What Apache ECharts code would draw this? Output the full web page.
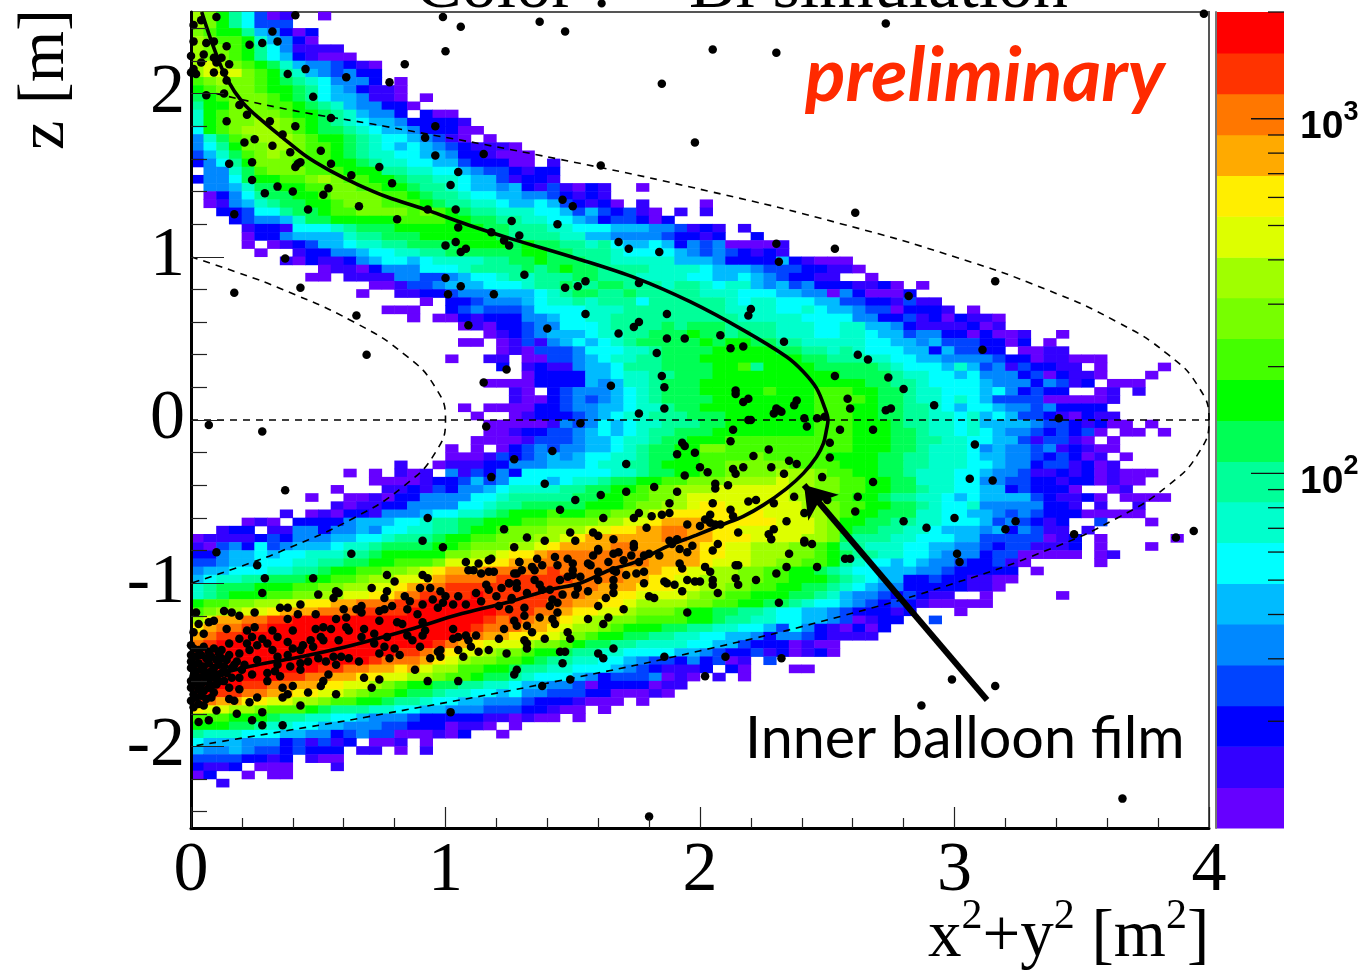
<!DOCTYPE html>
<html><head><meta charset="utf-8">
<style>html,body{margin:0;padding:0;background:#fff}#c{width:1361px;height:972px}</style>
<script src="https://cdn.jsdelivr.net/npm/echarts@6/dist/echarts.min.js"></script>
</head><body><div id="c"></div>
<script>
// Palette levels, a (lowest) .. t (highest)
const levelColors=['#6600ff','#3300ff','#0000ff','#0044ff','#0088ff','#00bbff','#00ffff','#00ffcc','#00ff99','#00ff55','#00ff00','#44ff00','#77ff00','#a0ff00','#ddff00','#ffee00','#ffaa00','#ff7700','#ff3300','#ff0000'];
const colorbarEdges=[10,13,17,22.1,28.8,37.6,48.9,63.8,83.2,108,141,184,240,313,407,531,692,902,1176,1533,2000];
const colorbarMinor=[20,30,40,50,60,70,80,90,200,300,400,500,600,700,800,900,2000];
const colorbarMajor=[100,1000];
const xTicks=[0,1,2,3,4];
const zMajorTicks=[-2,-1,0,1,2];
const zMinorTicks=[-2.4,-2.2,-1.8,-1.6,-1.4,-1.2,-0.8,-0.6,-0.4,-0.2,0.2,0.4,0.6,0.8,1.2,1.4,1.6,1.8,2.2,2.4];
// One string per z bin, top (z=2.5) to bottom; columns are x bins of 0.05, split c0-24|c25-50|c51+
const histRows=[
"nmkigdab..a","nmkigddd","mlkkifecac","nmllkhfeca","nmmlkigebbbb","nmmlkigfcbaaa","nonmlkjhfeedcba","nooomlkihfedecc",
"lmnmmlkjihgeeec.a","klmmmlkkjigfecbba","jklmmmlkjigffebba.a","ikkmmmllkjihfeecca","hklmmmmlkkjihfeec.caa","hklmmnnmlkjihgffeccccb",
"gklmnnnmlkjjihgffecccaa","ehjlmnnnmlkkjihggfedba.a",
"egikmmnnmllkjihgfgfedcbbb|a","dfhjlmnmmllkjihhggffeccba|aa","cegikmmmlllkkjihhggffdccc|aa.b",".eehjlmmmlllkkkiihhggfedd|cbcc",
"ceegjkkllmnmllkkjiihhgffd|bccb",".eefhjjkkllmmllkkjiihgffe|fcbdbacb..a",".acegijjkklmmmmllkjiihggf|feedcbcb",".abefhijjkklmmmlllkjiihhg|ffgfdcbca.b....a",
"..ccdggijjkllmmmmlmlkjiih|hhggfdfdcdba.b.b","...cdeefhjjkkkkkllllkkjji|ihhggfecddcac","....bccbggghijjjkkkkkkkjj|iiihhgggfffeedbcb.b","....acceffffhiijjjkkkkkkj|iiiihhffeeeedccbc..c",
"....a.abcdffghhiijjjjkkkk|jkjjiihigffgfcedeaaaab",".....a..bcceefgghhiijjjjj|jkkjjiiihggggfededcbcb",".......bacbbcefggfghhhhii|jjkjjjiihhhhhfffeccccfcbaa|a","..........abbaceeeggghiii|ijijkjjiiiihhhhgfffedddccb|ba",
".........aa.bbbbeeddefggh|ihiiijjiiihhhhggffgfedccbb|..a","..............aabddefffgg|ghiijiijjiiihiihghhfefdecc|cbbca.a",".............a..bbccdeeef|ffghijjiijiiiiihhhgggffeea|ecaaac","..................a.ccdee|efghhihiiigiiiiiihghhgggff|ddccbdbb",
"...............aaa..cdedd|degggghhhiiiiiiiihhhhgghgf|feddacccb.a",".................a.aacbcc|ceefgghhiiiiiiiiiihhhhhggg|geeccdbcacbba",".....................abac|cdeeggghiiiijijjjiiiihhhgg|hhffecbbbbcab",".......................ab|cdefffghhiijjjkjjijiihhhgg|hhgffdeeccacaab..a",
".....................aa.a|bdbefgfghijjjjjkjkkjjiihhh|hhggffefdddccac.a","........................a|badddeggghhijjjjkkkkkjjiih|ihgggffcfddcc.aabb","....................a..bb|.aaddefghhiijjjkkkkkkkkjji|iihhggffeeeedccabbaaa","........................c|.bcbbeffgiiijjjjkklikkkkjj|jjjihgggfhfdebdccbb.a....a",
"|.accccffghhiijjjkkkkkkkkkk|jjjjihhggfgeeecdacbba...a",".......................aa|aaccccfefhhijjjkkkkkkkkkkk|kkjjiihggggfeeecedbc.aaa","|ba.cdeeefghijjjkkkkklkkkll|lkkjjihhgggfgecdcc..ab.b","|baacdedefghijjjjkkkkkkkkll|llkjjihhghgfddddaaaaab",
".....................a.aa|aaccdeeffghhijjkkkkkkkkkll|lkkjjiihgfggfeedecccc","......................a..|abcccdefghhiiijjjkkkkkkkll|lkkjjiihhghfgfddcbacbb",".......................aa|aaabedegfghhiiijjkkkkkkkll|lkkkjiihhghffffeddcbcaa.a",".......................aa|bccddefgfghiijjjkkkkkkkkll|lkkkjjihhghgfeedcdcda.aa.a",
"......................aaa|abdddeffghhijjkkklllllllll|lkkkjjiihhggffdbddba.a","....................a.a.a|cdedeeffghijjkkmmlllllllll|lkkkjjihhhgefeedebcbaa","....................aaabd|cdefefgghhijjkkllllmlllllk|kkkjjiihhhgffeedcdcab.a","................b..abbbcc|eeefffghhiijkkkllmmmmmllll|kkkjjiihhhggfeecddbcab",
"............a.a.bab.ebdce|cggggggghhijjkkllmmmmnnnml|lkkjjihhhggfeedbbcbcabaaa","..............aaaabccdfde|gggfghhijjkkllmmmnnnnonnmm|llkkjjhhhggeeddccbccabaa","...........a...bbcbdceefg|hhhhiijjkklmmnnnoooooonnmm|llkkjjihhggffcdccca..ab",".........a..aabacceeeeggh|iiiiijjkkllmmnoooooooonnml|lkkjiihhgfgffffdcbbca.aaaa",
"...........babbcceeeegghi|ijjjjjkkklmmnnoppoooooonnm|llkkjjihggheeeeeccb.b..b",".......b.abaccbeeefgghhij|kkklkkllmmnoppppppopooonnm|lkkjjjhhggffededcccaaaaa","....aba.ccccefffgghiijjkk|kllmmmmnnoopqqqqpppppooonm|kkjjiihhgggfdedcbc..d...a","..bcc.bbeeceefegghhiijkkl|mmmnnnooppqqrrqqppoooooonm|kjjiihhgfffefcedbb.b",
"abbbbcdceeeffgghiiijkkllm|mmnnopqqqqqqrrqqpppoooonnm|jiiihhgggffdddddabc.a.....a","badecgdefffghhijjjjkklmmm|nnopqqqqrrqqqqqppoonnnmmlk|iihhhggffeedcddbbbc.a...a","cceffgfgghhhiijkkkkkmmnno|ppqrrrrrrrrqqqqppoonnnmmlk|jiihhggfeeecddaaaaa.ab","ddeffggghhiijjkkllmooopp.|qqrrrrrrrrrqqqqpooonnmmllk|ihggfgfeedccdba.....a".replace("ddeffggghhiijjkkllmooopp.","ddeffggghhiijjkkl"+"llmooopp"),
"effggghhiijkkllmmnopqqqrr|rrrsrrrrrqqqppoonnmmllkkji|hggfffeedccccc.a","fghhiijjjkkllmnnoopqrrrrs|sssssrrrrqqppoonnnmmllkkkj|ihgffccdccbbaa","hijjjkkkllmmnnoopqrrsssss|ssssrrrqqqpppoonnmmllkkjji|hgfeecccccbba","hijkkkllmmnnooppq"+"rsssstss|ssssrrqqppoooonmmllkkkjjih|feedcdcbb..a.....a",
"kllmmnnooppqqrrrsstttttss|sssrrqqpponnnnmmllkkjjihgg|fedcdcbaaaaa","lmnnoopqqq"+"rrrssssttt"+"tttts|ssrrqppoonmmmlkkjjiihggffe|dcccbc...a","noqqrrsstt"+"tttttttttt"+"tttsr|srqqponnmmllllkkjiihhggffe|dabcc..d","pqrrsstttt"+"tttttttttt"+"ttsrr|rqqponnmlkkkjjiihhggfdgecb|acac",
"qrsstttttt"+"tttttttttt"+"tsrqq|ppponmlkkjjiihhggffeceedcb|bbb","rstttttttt"+"ttttttttts"+"rqpoo|onmmlkjjiihhhhggffdcccabaa","sttttttttt"+"ttttttssrq"+"poonm|mlkkjiihhggggffedccdbcabca","ttttttttttttttsrrrqponmml|lkjiihhggfeddcecdab.d",
"ttttttttttssrrqqpqonnllkk|jiihhgggfedcbbbc.ca...aa","tttttttssrrqqppoonnmllkjj|ihgggfecdddeaba.b.a","ttttssrrqqppoonmlkkjjiihh|gffeedaccccabb","ttssrrqqppoonmllkjjihhggf|geedddccaaaba",
"srqqppoonnmllkkjiihggffee|edcccbaaa.a","poonnmlllkjiiihhggffeeedd|dccbaa.a","lllkkkjiihhggfeeedcccccbb|abaa.a","kkkjjihhggffeeeddcccabba.|a",
"ihhhgggffeecdeddaaabac..a","gfffeeecdbdbc.aab.a","feefeddcdccc.bb.a.b","ddddccbc.baa","cbbc.aaa...b","ac..a.aa","..b","","","","",""
];
// Event dots [x²+y², z]
const eventDots=[[.10,2.47],[.41,2.48],[.01,2.42],[.04,2.45],[.99,2.47],[1.06,2.41],[.32,2.38],[.34,2.32],[.01,2.32],[.06,2.31],[.09,2.32],[.14,2.29],[.23,2.30],[.28,2.31],[1.00,2.26],[0,2.23],[.05,2.24],[.09,2.22],[.12,2.22],[.10,2.19],[.04,2.19],[.15,2.18],[.84,2.18],[.45,2.15],[.01,2.15],[0,2.13],[.02,2.12],[.09,2.13],[.13,2.13],[.38,2.12],[.61,2.10],[.14,2.08],[.78,2.07],[.13,2.00],[.06,1.99],[.48,1.98],[.19,1.93],[.22,1.87],[.55,1.85],[.31,1.83],[.14,1.83],[.41,1.80],[.96,1.80],[.36,1.75],[.92,1.73],[.25,1.72],[.21,1.70],[.32,1.68],[.51,1.65],[.39,1.64],[.96,1.62],[1.15,1.63],[.43,1.58],[.24,1.58],[.42,1.57],[.41,1.55],[.15,1.57],[.55,1.57],[.74,1.55],[1.05,1.52],[.63,1.50],[.24,1.47],[.79,1.45],[1.02,1.44],[.54,1.42],[.34,1.43],[.40,1.40],[.52,1.38],[.29,1.39],[.66,1.31],[.46,1.29],[.93,1.29],[1.04,1.29],[.17,1.26],[.81,1.23],[1.26,1.22],[1.05,1.18],[1.18,1.15],[1.29,1.13],[1.23,1.10],[1.25,1.07],[1.04,1.09],[1.00,1.07],[1.08,1.05],[1.06,1.03],[.37,.99],[1.00,.87],
[1.37,2.44],[1.47,2.38],[2.05,2.27],[2.30,2.25],[2.73,2.43],[3.98,2.49],[1.85,2.06],[1.98,1.70],[1.61,1.56],[2.61,1.27],
[1.46,1.35],[1.50,1.31],[1.44,1.20],[1.68,1.09],[1.72,1.05],[1.84,1.03],[2.30,1.08],[2.53,1.05],[2.31,.97],[1.31,.89],[1.47,.81],[1.52,.82],[1.55,.85],[1.76,.84],[1.55,.65],[1.87,.65],[2.20,.68],[2.19,.64],[1.40,.56],[1.76,.60],[1.74,.57],[1.68,.53],[1.87,.50],[1.94,.50],[2.08,.52],[2.33,.48],[2.12,.44],[2.17,.45],[1.83,.41],[2.53,.27],[1.85,.27],[1.65,.21],[1.86,.20],[2.14,.18],[2.14,.16],[2.19,.13],[2.17,.11],[2.38,.12],[2.37,.09],[1.86,.07],[2.30,.07],[2.31,.06],[2.58,.13],
[1.76,.04],[2.29,.04],[2.32,.05],[2.41,.01],[2.46,.01],[2.49,.02],[2.19,0],[2.20,0],[1.53,-.02],[2.42,-.04],[2.13,-.06],[2.55,-.06],[2.12,-.13],[2.51,-.14],[1.93,-.14],[1.94,-.16],[1.42,-.19],[1.91,-.21],[1.98,-.20],[2.27,-.18],[2.21,-.22],[2.51,-.23],[1.27,-.24],[2.35,-.25],[2.38,-.27],[1.71,-.27],[2.00,-.29],[2.03,-.32],[2.13,-.30],[2.14,-.33],[2.17,-.29],[2.28,-.29],[2.33,-.33],[1.94,-.34],[2.48,-.35],[1.39,-.39],[2.06,-.39],[2.06,-.42],[2.11,-.40],[1.82,-.41],[1.71,-.44],[1.91,-.44],[1.61,-.46],[1.51,-.49],[1.88,-.51],[2.19,-.50],[2.22,-.49],[2.05,-.51],[2.29,-.51],[2.37,-.47],[2.50,-.49],[1.45,-.55],[1.76,-.57],[2.12,-.55],[2.13,-.59],[2.41,-.57],[1.88,-.57],[1.85,-.58],[1.81,-.59],[1.74,-.60],[1.62,-.60],[2.04,-.58],[2.02,-.61],[2.04,-.63],[2.08,-.64],[2.06,-.64],[2.34,-.62],[2.00,-.65],[1.95,-.64],[1.79,-.66],[1.49,-.69],[1.58,-.69],[1.60,-.71],[2.15,-.69],[2.29,-.67],[2.27,-.70],[2.28,-.73],[1.32,-.72],[1.39,-.74],[1.51,-.74],[1.66,-.73],[1.74,-.76],[1.91,-.73],[1.88,-.74],[1.89,-.76],[2.41,-.74],[2.41,-.75],[2.44,-.76],[1.27,-.78],[1.74,-.78],[1.60,-.79],[1.60,-.80],[1.92,-.79],[2.07,-.76],[2.05,-.80],[1.97,-.77],[1.95,-.81],[2.35,-.82],[1.58,-.83],[1.43,-.84],[1.48,-.85],[1.66,-.82],[1.68,-.81],[1.73,-.83],[1.78,-.83],[1.80,-.82],[1.84,-.83],[1.70,-.86],[1.64,-.87],[1.76,-.87],[1.36,-.85],[1.29,-.87],[1.38,-.89],[1.44,-.89],[1.50,-.88],[1.56,-.88],[1.57,-.89],[1.92,-.88],[1.93,-.91],[2.02,-.90],[2.04,-.93],[2.14,-.89],[2.15,-.89],[2.34,-.90],[2.46,-.90],[2.30,-.94],[2.57,-.85],[1.34,-.90],[1.35,-.92],[1.30,-.92],[1.28,-.94],[1.60,-.93],[1.66,-.92],[1.67,-.93],[1.50,-.92],[1.50,-.95],[1.48,-.96],[1.53,-.96],[1.71,-.95],[1.75,-.94],[1.78,-.93],[1.60,-.98],[1.66,-.98],[1.78,-1.00],[1.45,-.98],[1.35,-.98],[1.28,-1.00],[1.37,-1.01],[1.86,-.99],[1.87,-1.00],[1.90,-1.01],[1.95,-.98],[1.98,-.99],[2.00,-.99],[2.05,-.98],[2.05,-1.01],[2.07,-1.06],[2.14,-.97],[2.15,-1.01],[2.22,-.98],[1.52,-1.03],[1.66,-1.02],[1.56,-1.05],[1.41,-1.04],[1.38,-1.04],[1.28,-1.03],[1.25,-1.00],[1.32,-1.06],[1.46,-1.07],[1.51,-1.07],[1.66,-1.06],[1.93,-1.05],[1.63,-1.09],[1.42,-1.10],[1.44,-1.12],[1.41,-1.14],[1.60,-1.14],[1.80,-1.08],[1.82,-1.09],[2.31,-1.12],[1.26,-1.10],[1.31,-1.15],[1.70,-1.16],[1.95,-1.18],[1.44,-1.18],[1.42,-1.22],[1.31,-1.20],[1.37,-1.21],[1.56,-1.22],[1.64,-1.21],[1.62,-1.25],[1.27,-1.23],[1.43,-1.25],[1.28,-1.26],[1.32,-1.26],[1.34,-1.30],[1.48,-1.30],[1.49,-1.34],[1.39,-1.34],[1.31,-1.35],[1.32,-1.37],[1.32,-1.40],[1.66,-1.40],[1.45,-1.42],[1.47,-1.42],[1.60,-1.43],[1.62,-1.46],[1.46,-1.49],[1.86,-1.45],[2.10,-1.45],[2.32,-1.46],[1.27,-1.56],[1.49,-1.59],[1.38,-1.63],[2.02,-1.57],
[3.16,.85],[2.82,.76],[3.11,.43],[2.62,.40],[2.66,.37],[2.74,.26],[2.80,.19],[2.59,.07],[2.73,.06],[2.75,.07],[2.92,.09],[3.41,.01],[2.68,-.06],[3.08,-.15],[2.68,-.38],[3.06,-.36],[3.15,-.37],[2.62,-.47],[2.61,-.56],[2.80,-.62],[2.89,-.66],[3.00,-.60],[3.24,-.62],[3.20,-.67],[3.47,-.70],[2.59,-.85],[3.01,-.82],[3.02,-.87],
[3.87,-.72],[3.94,-.68],[3.16,-1.63],[2.99,-1.59],[2.87,-1.75],[3.66,-2.32],[1.80,-2.43],
[.17,.78],[.43,.81],[.65,.64],[.69,.40],[.07,-.03],[.28,-.07],[.37,-.43],[1.24,.31],[1.15,.23],[1.16,-.04],[1.18,-.35],[.93,-.60],[1.23,-.67],[.91,-.74],[.99,-.78],[1.06,.82],[1.01,.77],[1.19,.77],[1.09,.58],
[.10,-.81],[.63,-.82],[.26,-.89],[.29,-.97],[.48,-.97],[.28,-1.06],[.50,-1.07],[.71,-1.03],[.77,-.95],[.80,-.99],[.91,-.95],[.93,-.97],[.90,-1.03],[.94,-1.03],[.98,-1.05],[1.08,-.87],[1.09,-.92],[1.11,-.92],[1.13,-.88],[1.14,-.94],[1.17,-.86],[1.18,-.85],[1.17,-.93],[1.19,-.93],[1.29,-.87],[1.27,-.94],[1.16,-1.01],[1.17,-1.04],[1.22,-1.03],[1.25,-1.00],[.57,-1.05],[.58,-1.06],[.56,-1.09],[.77,-1.05],[.76,-1.09],[.84,-1.08],[.86,-1.11],[.95,-1.10],[.91,-1.13],[1.00,-1.08],[.99,-1.12],[.97,-1.15],[1.03,-1.13],[1.05,-1.08],[1.08,-1.13],[1.12,-1.06],[1.14,-1.11],[1.20,-1.08],[1.26,-1.09],[1.21,-1.14],[1.25,-1.16],[.13,-1.17],[.02,-1.18],[.16,-1.18],[.25,-1.18],[.19,-1.20],[.35,-1.15],[.38,-1.15],[.43,-1.13],[.42,-1.19],[.49,-1.19],[.38,-1.22],[.60,-1.16],[.65,-1.16],[.67,-1.14],[.67,-1.18],[.57,-1.22],[.61,-1.21],[.74,-1.17],[.76,-1.16],[.79,-1.14],[.85,-1.16],[.89,-1.19],[.74,-1.23],[.81,-1.24],[.83,-1.25],[.91,-1.24],[.07,-1.24],[.09,-1.23],[.03,-1.25],[.01,-1.30],[.05,-1.31],[.14,-1.28],[.22,-1.29],[.25,-1.27],[.32,-1.29],[.40,-1.29],[.34,-1.33],[.49,-1.28],[.52,-1.27],[.55,-1.28],[.61,-1.27],[.62,-1.29],[.68,-1.28],[.72,-1.31],[.67,-1.33],[.77,-1.33],[.85,-1.32],[.92,-1.29],[1.03,-1.28],[1.03,-1.34],[1.05,-1.33],[1.08,-1.32],[1.09,-1.35],[1.12,-1.32],[1.21,-1.34],[1.23,-1.28],[1.10,-1.39],[1.05,-1.41],[1.13,-1.42],[1.17,-1.41],[1.24,-1.43],[1.07,-1.45],[.98,-1.41],[.97,-1.42],[.98,-1.45],[.94,-1.46],[.90,-1.39],[.87,-1.35],[.91,-1.32],[.51,-1.33],[.52,-1.35],[.47,-1.35],[.44,-1.38],[.48,-1.39],[.58,-1.35],[.38,-1.36],[.40,-1.40],[.43,-1.41],[.32,-1.41],[.15,-1.37],[.19,-1.34],[.24,-1.33],[.28,-1.34],[.22,-1.37],[.26,-1.38],[.30,-1.37],[.23,-1.41],[.19,-1.43],[.12,-1.41],[.15,-1.44],[.38,-1.44],[.34,-1.45],[.50,-1.46],[.53,-1.48],[.56,-1.45],[.59,-1.45],[.62,-1.46],[.43,-1.49],[.46,-1.48],[.66,-1.48],[.57,-1.50],[.78,-1.46],[.74,-1.43],[.76,-1.39],[.80,-1.40],[.82,-1.44],[.72,-1.37],[.39,-1.51],[.34,-1.50],[.17,-1.50],[.26,-1.47],[.24,-1.56],[.30,-1.55],[.43,-1.53],[.33,-1.54],[.35,-1.57],[.30,-1.60],[.54,-1.56],[.68,-1.58],[.74,-1.59],[.52,-1.60],[.51,-1.63],[.40,-1.63],[.46,-1.67],[.36,-1.64],[.38,-1.68],[.36,-1.70],[.57,-1.68],[.71,-1.64],[.88,-1.53],[.93,-1.60],[1.05,-1.60],[1.28,-1.53],[.16,-1.58],[.19,-1.58],[.15,-1.64],[.19,-1.65],[.26,-1.70],[.23,-1.73],[.15,-1.71],[.17,-1.72],[.43,-1.75],[.10,-1.78],[.18,-1.80],[.28,-1.79],[.24,-1.84],[.28,-1.87],[.36,-1.87],[.03,-1.85],[.07,-1.84],[1.02,-1.79],
[0,-1.38],[.01,-1.40],[.03,-1.41],[.05,-1.39],[.07,-1.42],[.09,-1.40],[.11,-1.43],[0,-1.44],[.02,-1.45],[.04,-1.44],[.06,-1.46],[.08,-1.45],[.10,-1.47],[.12,-1.46],[0,-1.48],[.01,-1.50],[.03,-1.49],[.05,-1.51],[.07,-1.49],[.09,-1.52],[.11,-1.50],[.13,-1.51],[0,-1.52],[.02,-1.54],[.04,-1.53],[.06,-1.55],[.08,-1.54],[.10,-1.56],[.12,-1.55],[.01,-1.57],[.03,-1.58],[.05,-1.57],[.07,-1.59],[.09,-1.58],[.11,-1.60],[0,-1.60],[.02,-1.61],[.04,-1.62],[.06,-1.60],[.08,-1.63],[.10,-1.62],[0,-1.64],[.03,-1.65],[.05,-1.66],[.07,-1.64],[.09,-1.67],[.01,-1.68],[.02,-1.70],[.04,-1.69],[.06,-1.71],[.08,-1.70],[0,-1.72],[.03,-1.74],[.05,-1.75],[.01,-1.76],[.14,-1.47],[.16,-1.52],[.14,-1.55],[.13,-1.60],[.18,-1.48],[.20,-1.53],[.21,-1.50]];
const filmCurve=[[.042,2.5],[.088,2.288],[.14,2.093],[.206,1.94],[.284,1.828],[.363,1.726],[.454,1.614],[.546,1.528],[.651,1.446],[.769,1.368],[.933,1.283],[1.09,1.195],[1.253,1.113],[1.515,.99],[1.751,.868],[1.961,.725],[2.17,.551],[2.34,.388],[2.406,.296],[2.458,.194],[2.491,.071],[2.503,0],[2.497,-.06],[2.485,-.143],[2.458,-.225],[2.406,-.327],[2.34,-.42],[2.25,-.52],[2.17,-.59],[2.085,-.643],[1.986,-.705],[1.869,-.776],[1.751,-.868],[1.646,-.919],[1.528,-1.0],[1.41,-1.04],[1.253,-1.113],[1.044,-1.195],[.874,-1.277],[.585,-1.399],[.402,-1.46],[.258,-1.501],[0,-1.593]];
const outerBoundary=[[.1,2],[.39,1.9],[.76,1.8],[1.44,1.6],[2.04,1.4],[2.56,1.2],[3,1],[3.36,.8],[3.64,.6],[3.84,.4],[3.96,.2],[4,0],[3.96,-.2],[3.84,-.4],[3.64,-.6],[3.36,-.8],[3,-1],[2.56,-1.2],[2.04,-1.4],[1.44,-1.6],[.76,-1.8],[.39,-1.9],[0,-2]];
const innerBoundary=[[0,1],[.19,.9],[.36,.8],[.64,.6],[.84,.4],[.96,.2],[1,0],[.96,-.2],[.84,-.4],[.64,-.6],[.36,-.8],[.19,-.9],[0,-1]];
const midLine=[[0,0],[4,0]];
const arrowFrom=[3.128,-1.716];
const arrowTo=[2.409,-.398];

const SERIF='"Liberation Serif","DejaVu Serif",serif';
const heatData=[];
histRows.forEach((row,r)=>{
  const p=row.split('|');
  const full=(p[0]||'').padEnd(25,'.').slice(0,25)+(p[1]||'').padEnd(26,'.').slice(0,26)+(p[2]||'');
  for(let c=0;c<full.length&&c<80;c++){
    const ch=full[c];
    if(ch!=='.')heatData.push([c,99-r,ch.charCodeAt(0)-97]);
  }
});
const xBins=Array.from({length:80},(_,i)=>String(i));
const zBins=Array.from({length:100},(_,i)=>String(i));
const tickStyle={color:'#222',width:1.2};

const chart=echarts.init(document.getElementById('c'),null,{renderer:'canvas'});
chart.setOption({
  animation:false,backgroundColor:'#fff',
  grid:[
    {left:191,top:12,width:1018,height:816,show:true,borderColor:'#555',borderWidth:2,backgroundColor:'transparent',outerBoundsMode:'none'},
    {left:1216,top:12,width:68,height:816,show:false,outerBoundsMode:'none'}
  ],
  visualMap:{type:'piecewise',show:false,seriesIndex:0,dimension:2,pieces:levelColors.map((color,i)=>({value:i,color}))},
  xAxis:[
    {type:'value',gridIndex:0,min:0,max:4,interval:1,z:10,splitLine:{show:false},
      axisLine:{onZero:false,lineStyle:{color:'#000',width:3}},
      axisTick:{inside:true,length:21,lineStyle:tickStyle},
      minorTick:{show:true,splitNumber:5,length:10,lineStyle:tickStyle},
      axisLabel:{color:'#000',fontFamily:SERIF,fontSize:70,margin:9,showMinLabel:true,showMaxLabel:true,formatter:v=>xTicks.includes(v)?String(v):''}},
    {type:'category',gridIndex:0,data:xBins,show:false},
    {type:'value',gridIndex:1,min:0,max:1,show:false}
  ],
  yAxis:[
    {type:'value',gridIndex:0,min:-2.5,max:2.5,z:10,position:'left',splitLine:{show:false},
      axisLine:{onZero:false,lineStyle:{color:'#000',width:3}},
      axisTick:{inside:true,length:33,lineStyle:tickStyle,customValues:zMajorTicks},
      axisLabel:{color:'#000',fontFamily:SERIF,fontSize:70,margin:6,padding:[14,0,0,0],customValues:zMajorTicks,formatter:v=>String(v)}},
    {type:'value',gridIndex:0,min:-2.5,max:2.5,z:10,position:'left',splitLine:{show:false},
      axisLine:{show:false},
      axisTick:{inside:true,length:16,lineStyle:tickStyle,customValues:zMinorTicks},
      axisLabel:{show:false}},
    {type:'category',gridIndex:0,data:zBins,show:false},
    {type:'log',gridIndex:1,min:10,max:2000,position:'right',logBase:10,z:10,splitLine:{show:false},
      axisLine:{show:true,lineStyle:{color:'#777',width:2}},
      axisTick:{show:false},
      axisLabel:{show:true,margin:16,padding:[8,0,0,0],showMinLabel:false,showMaxLabel:false,
        formatter:v=>v>=1000?'{b|10}{s|3}':(v>=100?'{b|10}{s|2}':''),
        rich:{b:{fontFamily:'"Liberation Sans",sans-serif',fontWeight:'bold',fontSize:39,color:'#000',lineHeight:48,verticalAlign:'bottom'},
              s:{fontFamily:'"Liberation Sans",sans-serif',fontWeight:'bold',fontSize:27,color:'#000',lineHeight:48,verticalAlign:'top'}}}}
  ],
  series:[
    {type:'heatmap',name:'histogram',xAxisIndex:1,yAxisIndex:2,data:heatData,progressive:0,silent:true,z:1},
    {type:'line',name:'outer',xAxisIndex:0,yAxisIndex:0,data:outerBoundary,smooth:true,showSymbol:false,silent:true,z:3,clip:false,lineStyle:{color:'#000',width:1.6,type:[7,6]}},
    {type:'line',name:'inner',xAxisIndex:0,yAxisIndex:0,data:innerBoundary,smooth:true,showSymbol:false,silent:true,z:3,lineStyle:{color:'#000',width:1.6,type:[7,6]}},
    {type:'line',name:'mid',xAxisIndex:0,yAxisIndex:0,data:midLine,showSymbol:false,silent:true,z:3,lineStyle:{color:'#000',width:1.6,type:[7,6]}},
    {type:'line',name:'film',xAxisIndex:0,yAxisIndex:0,data:filmCurve,smooth:0.35,showSymbol:false,silent:true,z:4,lineStyle:{color:'#000',width:3.6},
      markLine:{silent:true,z:6,animation:false,label:{show:false},lineStyle:{color:'#000',width:6,type:'solid'},symbolSize:30,
        data:[[{coord:arrowFrom,symbol:'none'},{coord:arrowTo,symbol:'arrow'}]]}},
    {type:'scatter',name:'events',xAxisIndex:0,yAxisIndex:0,data:eventDots,symbolSize:8.5,silent:true,clip:false,z:5,itemStyle:{color:'#000',opacity:1}},
    {type:'custom',name:'colorbar',xAxisIndex:2,yAxisIndex:3,silent:true,z:2,clip:false,
      data:levelColors.map((c,i)=>[0,colorbarEdges[i],colorbarEdges[i+1],i]),
      encode:{x:0,y:1},
      renderItem(params,api){
        const a=api.coord([0,api.value(1)]),b=api.coord([1,api.value(2)]);
        return {type:'rect',shape:{x:a[0],y:b[1],width:b[0]-a[0],height:a[1]-b[1]+0.5},style:{fill:levelColors[api.value(3)]}};
      }},
    {type:'custom',name:'colorbarTicks',xAxisIndex:2,yAxisIndex:3,silent:true,z:3,clip:false,
      data:colorbarMinor.map(v=>[1,v,16]).concat(colorbarMajor.map(v=>[1,v,33])),
      encode:{x:0,y:1},
      renderItem(params,api){
        const p=api.coord([1,api.value(1)]);
        return {type:'line',shape:{x1:p[0],y1:p[1],x2:p[0]-api.value(2),y2:p[1]},style:{stroke:'#111',lineWidth:1.3}};
      }}
  ],
  graphic:[
    {type:'text',z:20,silent:true,x:415,y:-46,style:{text:'{a|Color : }{s|214}{a|Bi simulation}',rich:{a:{fontFamily:SERIF,fontSize:70,fill:'#000',lineHeight:70},s:{fontFamily:SERIF,fontSize:40,fill:'#000',lineHeight:70,verticalAlign:'top'}}}},
    {type:'text',z:20,silent:true,x:928,y:896,style:{text:'{a|x}{s|2}{a|+y}{s|2}{a| [m}{s|2}{a|]}',rich:{a:{fontFamily:SERIF,fontSize:67,fill:'#000',lineHeight:76,verticalAlign:'bottom'},s:{fontFamily:SERIF,fontSize:42,fill:'#000',lineHeight:76,verticalAlign:'top'}}}},
    {type:'text',z:20,silent:true,x:13,y:150,rotation:Math.PI/2,originX:0,originY:0,style:{text:'z [m]',fontFamily:SERIF,fontSize:66,fill:'#000'}},
    {type:'text',z:20,silent:true,x:805,y:39,style:{text:'preliminary',fontFamily:'Lato,"Open Sans",sans-serif',fontStyle:'italic',fontWeight:'bold',fontSize:75,fill:'#ff2a00'}},
    {type:'text',z:20,silent:true,x:745,y:710,style:{text:'Inner balloon film',fontFamily:'Lato,"Open Sans",sans-serif',fontSize:57.5,fill:'#000'}}
  ]
});
</script></body></html>
